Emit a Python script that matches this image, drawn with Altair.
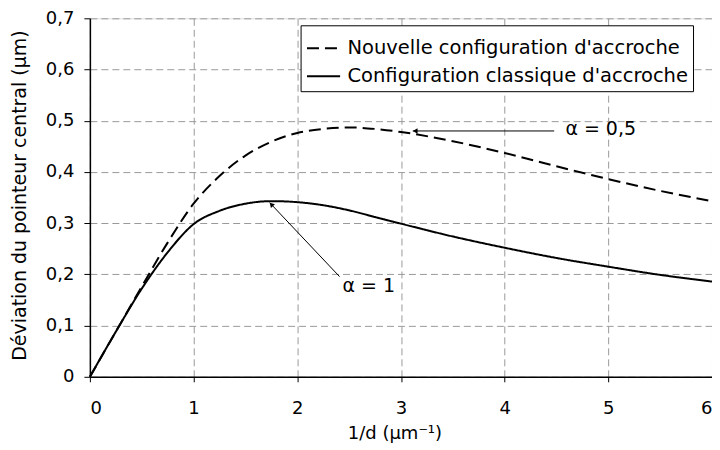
import altair as alt
import pandas as pd

# Curve data
x_vals = [0, 0.25, 0.5, 0.75, 1.0, 1.25, 1.5, 1.75, 2.0, 2.25, 2.5, 2.75, 3.0, 3.5, 4.0, 4.5, 5.0, 5.5, 6.0]
y_classique = [0, 0.088, 0.172, 0.243, 0.298, 0.324, 0.338, 0.343, 0.341, 0.335, 0.325, 0.312, 0.299,
               0.274, 0.252, 0.232, 0.215, 0.199, 0.186]
y_nouvelle = [0, 0.088, 0.176, 0.262, 0.338, 0.392, 0.432, 0.459, 0.476, 0.484, 0.487, 0.484, 0.478,
              0.460, 0.437, 0.411, 0.386, 0.363, 0.343]

series_names = ["Nouvelle configuration d'accroche", "Configuration classique d'accroche"]

# Annotations
ann_labels = ["α = 0,5", "α = 1"]
ann_text_x = [4.586, 2.437]
ann_text_y = [0.4834, 0.178]
arrow_x1 = [4.478, 2.408]
arrow_y1 = [0.480, 0.1956]
arrow_x2 = [3.114, 1.734]
arrow_y2 = [0.480, 0.340]
head_x = [3.145, 1.755]
head_y = [0.480, 0.3355]
arrow_angle = [270, 316.6]

FONT = "DejaVu Sans"

rows = []
for xv, yn, yc in zip(x_vals, y_nouvelle, y_classique):
    rows.append({"x": xv, "y": yn, "serie": series_names[0]})
    rows.append({"x": xv, "y": yc, "serie": series_names[1]})
df = pd.DataFrame(rows)

ann = pd.DataFrame({
    "label": ann_labels, "tx": ann_text_x, "ty": ann_text_y,
    "x1": arrow_x1, "y1": arrow_y1, "x2": arrow_x2, "y2": arrow_y2,
    "hx": head_x, "hy": head_y, "angle": arrow_angle,
})

xscale = alt.Scale(domain=[0, 6], nice=False, zero=True)
yscale = alt.Scale(domain=[0, 0.7], nice=False)

xaxis = alt.Axis(
    values=[0, 1, 2, 3, 4, 5, 6], format="d", title="1/d (µm⁻¹)",
    labelFont=FONT, labelFontSize=18, labelColor="black", labelPadding=18,
    titleFont=FONT, titleFontSize=18, titleFontWeight="normal", titleColor="black",
    titleX=305, titleY=57, titleBaseline="middle", titleAlign="center",
    domainColor="black", domainWidth=1.5, tickColor="black", tickSize=5,
    gridColor="#9a9a9a", gridDash=[7, 4], gridWidth=1,
)
yaxis = alt.Axis(
    values=[0, 0.1, 0.2, 0.3, 0.4, 0.5, 0.6, 0.7],
    labelExpr="datum.value == 0 ? '0' : replace(format(datum.value, '.1f'), '.', ',')",
    title="Déviation du pointeur central (µm)",
    labelFont=FONT, labelFontSize=18, labelColor="black", labelPadding=10,
    titleFont=FONT, titleFontSize=19, titleFontWeight="normal", titleColor="black",
    titleX=-70, titleY=177, titleAngle=-90, titleAlign="center", titleBaseline="middle",
    titleLimit=600,
    domainColor="black", domainWidth=1.5, tickColor="black", tickSize=6,
    gridColor="#9a9a9a", gridDash=[7, 4], gridWidth=1,
)

lines = alt.Chart(df).mark_line(color="black", strokeWidth=2, interpolate="monotone").encode(
    x=alt.X("x:Q", scale=xscale, axis=xaxis),
    y=alt.Y("y:Q", scale=yscale, axis=yaxis),
    strokeDash=alt.StrokeDash(
        "serie:N",
        scale=alt.Scale(domain=series_names, range=[[12, 6], [1, 0]]),
        legend=alt.Legend(
            title=None, orient="none", legendX=211, legendY=7,
            strokeColor="black", fillColor="white", padding=5,
            symbolType="stroke", symbolSize=1100, symbolStrokeWidth=2, symbolStrokeColor="black",
            labelFont=FONT, labelFontSize=19.5, labelColor="black", labelOffset=6,
            rowPadding=0, labelLimit=500, cornerRadius=0,
        ),
    ),
)

arrows = alt.Chart(ann).mark_rule(color="black", strokeWidth=1).encode(
    x="x1:Q", y="y1:Q", x2="x2:Q", y2="y2:Q"
)
heads = alt.Chart(ann).mark_point(
    shape="triangle", filled=True, color="black", size=30, opacity=1, strokeWidth=0
).encode(x="hx:Q", y="hy:Q", angle=alt.Angle("angle:Q", scale=None))
texts = alt.Chart(ann).mark_text(
    align="left", baseline="middle", font=FONT, fontSize=19, color="black"
).encode(x="tx:Q", y="ty:Q", text="label:N")

chart = alt.layer(lines, arrows, heads, texts).properties(
    width=623, height=359,
    autosize="none",
    padding={"left": 82, "top": 10, "right": 0, "bottom": 72},
).configure_view(stroke="#9a9a9a", strokeWidth=1).configure(background="white")

chart.save("out.html", embed_options={"renderer": "svg", "actions": False})
